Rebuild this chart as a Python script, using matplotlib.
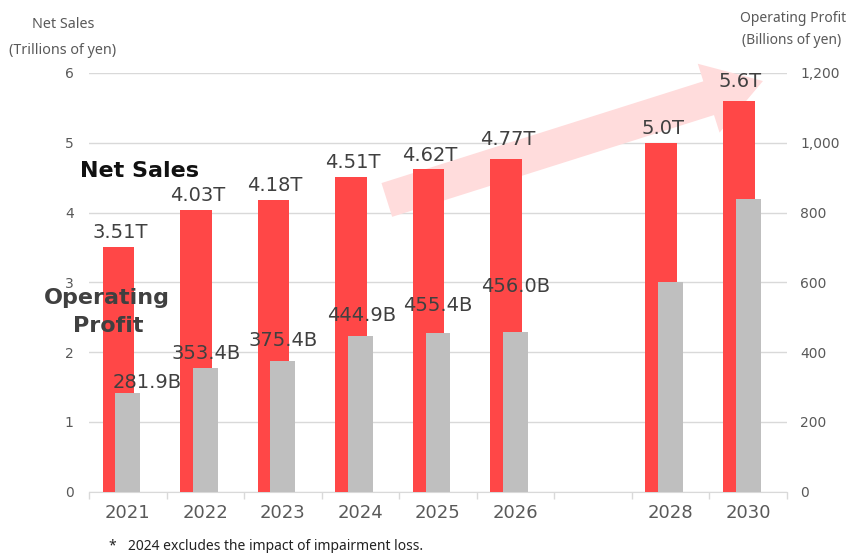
import numpy as np
import matplotlib
matplotlib.use("Agg")
import matplotlib.pyplot as plt
from matplotlib.patches import FancyArrowPatch

# =========================
# data
# =========================
years = ['2021', '2022', '2023', '2024', '2025', '2026', '', '2028', '2030']
net_sales = [3.51, 4.03, 4.18, 4.51, 4.62, 4.77, np.nan, 5.0, 5.6]          # trillions of yen
op_profit = [281.9, 353.4, 375.4, 444.9, 455.4, 456.0, np.nan, 600, 840]    # billions of yen
net_labels = ['3.51T', '4.03T', '4.18T', '4.51T', '4.62T', '4.77T', '', '5.0T', '5.6T']
op_labels = ['281.9B', '353.4B', '375.4B', '444.9B', '455.4B', '456.0B', '', '', '']

# label offsets (pixels above bar top / sideways)
net_dy = [9, 9, 8.5, 8.5, 8.5, 14, 0, 8.5, 14]
op_dx = [19.5, 0.5, 0.5, 1, 0, 0.5, 0, 0, 0]
op_dy = [5.5, 9, 15, 15, 22, 40, 0, 0, 0]

RED = '#FF4747'
GRAY = '#BFBFBF'
TXT = '#404040'
TICK = '#595959'
GRID = '#D9D9D9'

x = np.arange(len(years))

fig = plt.figure(figsize=(8.48, 5.53), dpi=100)
ax = fig.add_axes([89 / 848, 61.5 / 553, 698 / 848, 418.5 / 553])
ax2 = ax.twinx()

# red bars (net sales) on left axis
ax.bar(x - 0.122, net_sales, width=0.406, color=RED, zorder=3)
ax.set_ylim(0, 6)
ax.set_xlim(-0.5, len(years) - 0.5)
ax.set_yticks(range(0, 7))
ax.grid(axis='y', color=GRID, linewidth=1, zorder=0)
ax.set_axisbelow(True)

# big pink arrow
arrow = FancyArrowPatch((3.34, 4.18), (8.19, 5.885),
                        arrowstyle='simple,head_length=41,head_width=52,tail_width=25.5',
                        mutation_scale=1, shrinkA=0, shrinkB=0,
                        color='#FFDCDC', linewidth=0, zorder=2, clip_on=False)
ax.add_patch(arrow)

# gray bars (operating profit) on right axis
ax2.bar(x, op_profit, width=0.322, color=GRAY, zorder=3)
ax2.set_ylim(0, 1200)
ax2.set_yticks(range(0, 1201, 200))
ax2.set_yticklabels([f'{v:,}' for v in range(0, 1201, 200)])

for a in (ax, ax2):
    for s in a.spines.values():
        s.set_visible(False)
ax.spines['bottom'].set_visible(True)
ax.spines['bottom'].set_color(GRID)

ax.set_xticks(x)
ax.set_xticklabels(years)
ax.set_xticks(np.arange(-0.5, len(years)), minor=True)
ax.tick_params(axis='x', which='major', length=0, pad=9, labelsize=13, labelcolor=TICK)
ax.tick_params(axis='x', which='minor', length=5, color=GRID, width=1)
ax.tick_params(axis='y', length=0, pad=11, labelsize=10, labelcolor=TICK)
ax2.tick_params(axis='y', length=0, pad=9.5, labelsize=10, labelcolor=TICK)

# data labels
for i in range(len(years)):
    if net_labels[i]:
        ax2.annotate(net_labels[i], (x[i] - 0.122, net_sales[i] * 200),
                     xytext=(1.5, net_dy[i]), textcoords='offset pixels',
                     ha='center', va='baseline', fontsize=14, color=TXT, zorder=5)
    if op_labels[i]:
        ax2.annotate(op_labels[i], (x[i], op_profit[i]),
                     xytext=(op_dx[i], op_dy[i]), textcoords='offset pixels',
                     ha='center', va='baseline', fontsize=14, color=TXT, zorder=5)

# series names
fig.text(139.5 / 848, 1 - 176.7 / 553, 'Net Sales', ha='center', va='baseline',
         fontsize=16, fontweight='bold', color='#111111')
fig.text(107 / 848, 1 - 304 / 553, 'Operating', ha='center', va='baseline',
         fontsize=16, fontweight='bold', color=TXT)
fig.text(108 / 848, 1 - 331.5 / 553, 'Profit', ha='center', va='baseline',
         fontsize=16, fontweight='bold', color=TXT)

# axis titles
tf = ['Noto Sans', 'DejaVu Sans']
fig.text(63 / 848, 1 - 24 / 553, 'Net Sales', ha='center', va='center',
         fontsize=10.3, color=TICK, family=tf)
fig.text(63 / 848, 1 - 50 / 553, '(Trillions of yen)', ha='center', va='center',
         fontsize=10.3, color=TICK, family=tf)
fig.text(793 / 848, 1 - 18 / 553, 'Operating Profit', ha='center', va='center',
         fontsize=10, color=TICK, family=tf)
fig.text(792 / 848, 1 - 40 / 553, '(Billions of yen)', ha='center', va='center',
         fontsize=10, color=TICK, family=tf)

# footnote
fig.text(108 / 848, 1 - 546 / 553, '*', ha='left', va='center', fontsize=10, color='#222222', family=tf)
fig.text(128 / 848, 1 - 546 / 553, '2024 excludes the impact of impairment loss.',
         ha='left', va='center', fontsize=10, color='#222222', family=tf)

fig.savefig('out.png', dpi=100)
